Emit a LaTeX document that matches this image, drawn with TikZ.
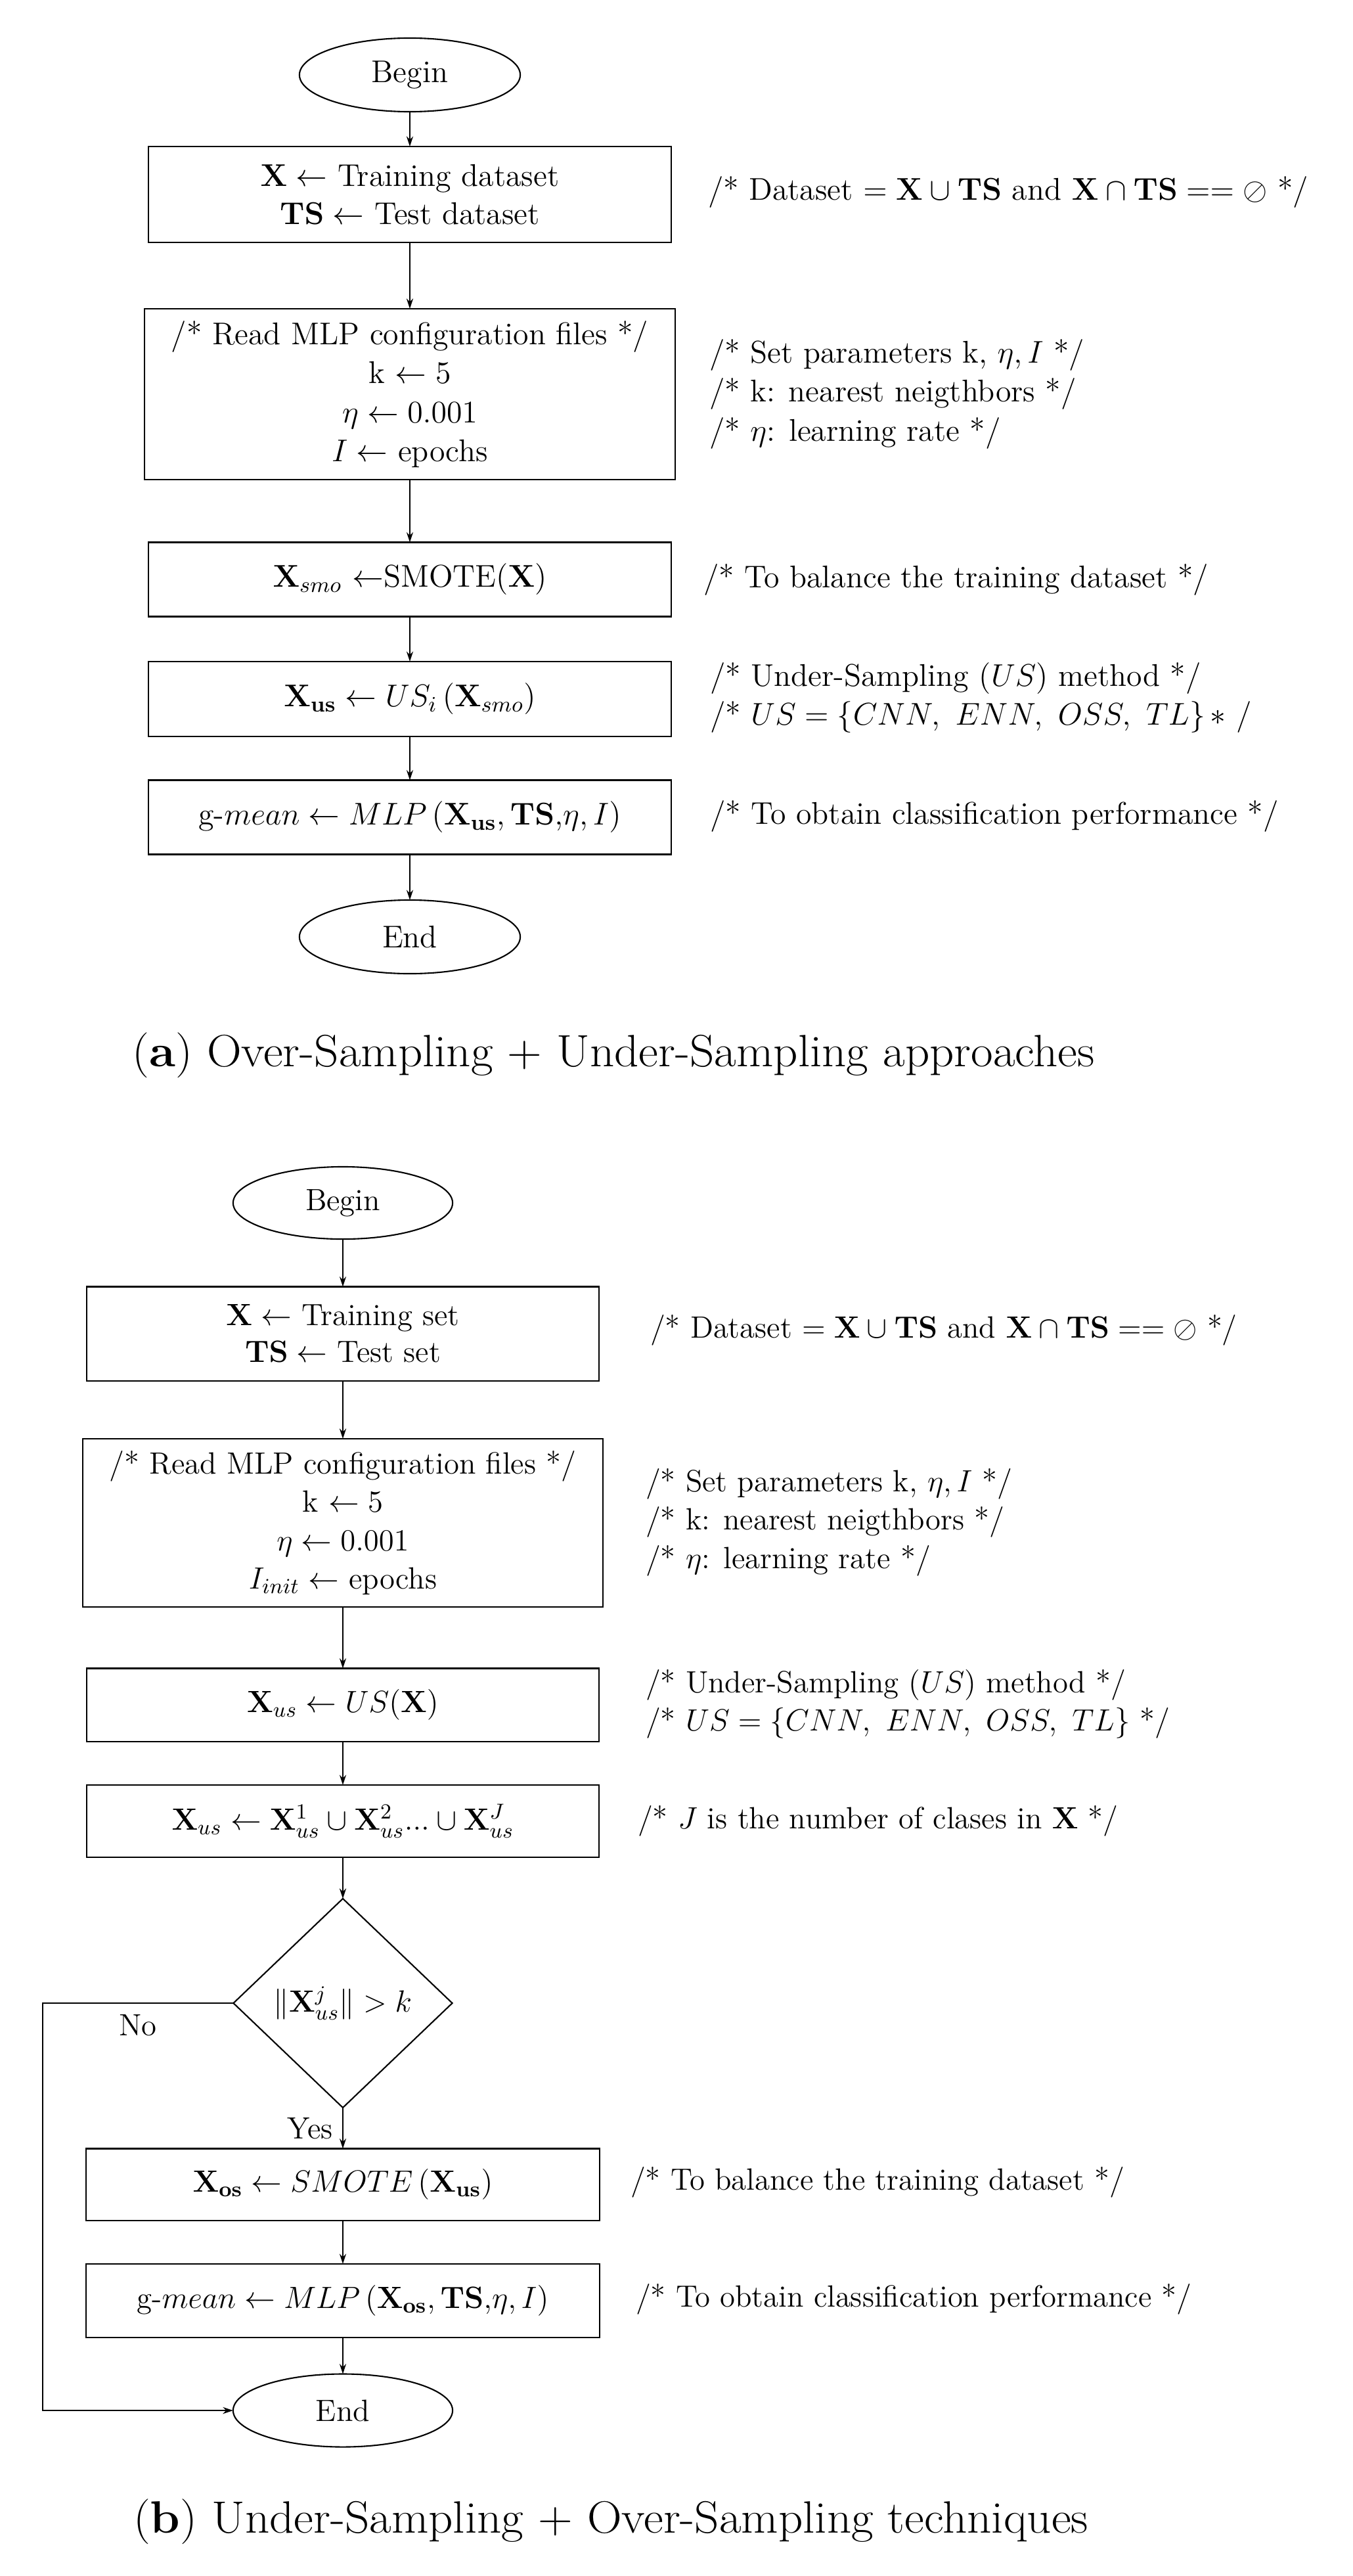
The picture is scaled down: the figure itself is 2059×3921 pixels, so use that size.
\RequirePackage{fix-cm}
\documentclass[tikz,border=0pt]{standalone}
\usetikzlibrary{shapes.geometric,arrows.meta}
\begin{document}
\begin{tikzpicture}[x=0.01cm,y=-0.01cm,
  every node/.style={inner sep=0pt,outer sep=0pt},
  fa/.style={font=\fontsize{13.6}{16.3}\selectfont},
  fb/.style={font=\fontsize{13.3}{16}\selectfont},
  proc/.style={draw,line width=0.6pt,rectangle,align=center},
  term/.style={draw,line width=0.6pt,ellipse,minimum width=3.36cm,minimum height=1.12cm},
  cmt/.style={anchor=west,align=left},
  capt/.style={font=\fontsize{19.6}{23}\selectfont},
  flow/.style={line width=0.6pt,-{Stealth[length=4.4pt,width=2.9pt]}},
  plain/.style={line width=0.6pt}]
\useasboundingbox (0,0) rectangle (2059,3921);

% ---------------- (a) ----------------
\begin{scope}[every node/.append style={fa}]
\node[term] (beginA) at (624,114) {Begin};
\node[proc,minimum width=7.96cm,minimum height=1.46cm] (boxA1) at (624,296)
  {$\mathbf{X}\leftarrow$ Training dataset\\ $\mathbf{TS}\leftarrow$ Test dataset};
\node[cmt] (cA1) at (1078,293)
  {/* Dataset $=\mathbf{X}\cup\mathbf{TS}$ and $\mathbf{X}\cap\mathbf{TS}==\oslash$ */};
\node[proc,minimum width=8.08cm,minimum height=2.60cm] (boxA2) at (624,600)
  {/* Read MLP configuration files */\\[0.6pt] k $\leftarrow 5$\\[0.6pt] $\eta\leftarrow 0.001$\\[0.6pt] $I\leftarrow$ epochs};
\node[cmt] (cA2) at (1080,600)
  {/* Set parameters k, $\eta, I$ */\\[0.6pt] /* k: nearest neigthbors */\\[0.6pt] /* $\eta$: learning rate */};
\node[proc,minimum width=7.95cm,minimum height=1.13cm] (boxA3) at (624,882)
  {$\mathbf{X}_{smo}$ $\leftarrow$SMOTE($\mathbf{X}$)};
\node[cmt] (cA3) at (1071,883) {/* To balance the training dataset */};
\node[proc,minimum width=7.95cm,minimum height=1.14cm] (boxA4) at (624,1064)
  {$\mathbf{X_{us}}\leftarrow US_i\,(\mathbf{X}_{smo})$};
\node[cmt] (cA4) at (1081,1062)
  {/* Under-Sampling ($US$) method */\\[0.6pt] /* $US=\{CNN,\ ENN,\ OSS,\ TL\}\,{\ast}$ /};
\node[proc,minimum width=7.95cm,minimum height=1.13cm] (boxA5) at (624,1244)
  {g-$mean\leftarrow MLP\,(\mathbf{X_{us}},\mathbf{TS}{,}\eta,I)$};
\node[cmt] (cA5) at (1081,1243) {/* To obtain classification performance */};
\node[term] (endA) at (624,1426) {End};
\end{scope}
\draw[flow] (beginA) -- (boxA1);
\draw[flow] (boxA1) -- (boxA2);
\draw[flow] (boxA2) -- (boxA3);
\draw[flow] (boxA3) -- (boxA4);
\draw[flow] (boxA4) -- (boxA5);
\draw[flow] (boxA5) -- (endA);
\node[capt] (capA) at (934,1606) {\scalebox{1.06}[1]{(\textbf{a}) Over-Sampling + Under-Sampling approaches}};

% ---------------- (b) ----------------
\begin{scope}[every node/.append style={fb}]
\node[term,minimum width=3.34cm,minimum height=1.10cm] (beginB) at (522,1831) {Begin};
\node[proc,minimum width=7.80cm,minimum height=1.43cm] (boxB1) at (522,2030)
  {$\mathbf{X}\leftarrow$ Training set\\ $\mathbf{TS}\leftarrow$ Test set};
\node[cmt] (cB1) at (990,2025)
  {/* Dataset $=\mathbf{X}\cup\mathbf{TS}$ and $\mathbf{X}\cap\mathbf{TS}==\oslash$ */};
\node[proc,minimum width=7.91cm,minimum height=2.56cm] (boxB2) at (522,2318)
  {/* Read MLP configuration files */\\[0.6pt] k $\leftarrow 5$\\[0.6pt] $\eta\leftarrow 0.001$\\[0.6pt] $I_{init}\leftarrow$ epochs};
\node[cmt] (cB2) at (983,2317)
  {/* Set parameters k, $\eta, I$ */\\[0.6pt] /* k: nearest neigthbors */\\[0.6pt] /* $\eta$: learning rate */};
\node[proc,minimum width=7.79cm,minimum height=1.11cm] (boxB3) at (522,2595)
  {$\mathbf{X}_{us}\leftarrow US(\mathbf{X})$};
\node[cmt] (cB3) at (983,2594)
  {/* Under-Sampling ($US$) method */\\[0.6pt] /* $US=\{CNN,\ ENN,\ OSS,\ TL\}$ */};
\node[proc,minimum width=7.79cm,minimum height=1.10cm] (boxB4) at (522,2772)
  {$\mathbf{X}_{us}\leftarrow\mathbf{X}^1_{us}\cup\mathbf{X}^2_{us}...\cup\mathbf{X}^J_{us}$};
\node[cmt] (cB4) at (971,2772) {/* $J$ is the number of clases in $\mathbf{X}$ */};
\node[draw,line width=0.6pt,diamond,minimum width=3.33cm,minimum height=3.18cm] (dia) at (522,3049)
  {$\|\mathbf{X}^j_{us}\|>k$};
\node[proc,minimum width=7.81cm,minimum height=1.09cm] (boxB5) at (522,3325)
  {$\mathbf{X_{os}}\leftarrow SMOTE\,(\mathbf{X_{us}})$};
\node[cmt] (cB5) at (960,3322) {/* To balance the training dataset */};
\node[proc,minimum width=7.81cm,minimum height=1.12cm] (boxB6) at (522,3502)
  {g-$mean\leftarrow MLP\,(\mathbf{X_{os}},\mathbf{TS}{,}\eta,I)$};
\node[cmt] (cB6) at (968,3500) {/* To obtain classification performance */};
\node[term,minimum width=3.34cm,minimum height=1.11cm] (endB) at (522,3669) {End};
\node (noL) at (210,3083) {No};
\node (yesL) at (472,3240) {Yes};
\end{scope}
\coordinate (noA) at (65,3049);
\coordinate (noB) at (65,3669);
\draw[flow] (beginB) -- (boxB1);
\draw[flow] (boxB1) -- (boxB2);
\draw[flow] (boxB2) -- (boxB3);
\draw[flow] (boxB3) -- (boxB4);
\draw[flow] (boxB4) -- (dia);
\draw[flow] (dia) -- (boxB5);
\draw[flow] (boxB5) -- (boxB6);
\draw[flow] (boxB6) -- (endB);
\draw[flow] (dia.west) -- (noA) -- (noB) -- (endB.west);
\node[capt] (capB) at (930,3838) {\scalebox{1.06}[1]{(\textbf{b}) Under-Sampling + Over-Sampling techniques}};
\end{tikzpicture}
\end{document}
